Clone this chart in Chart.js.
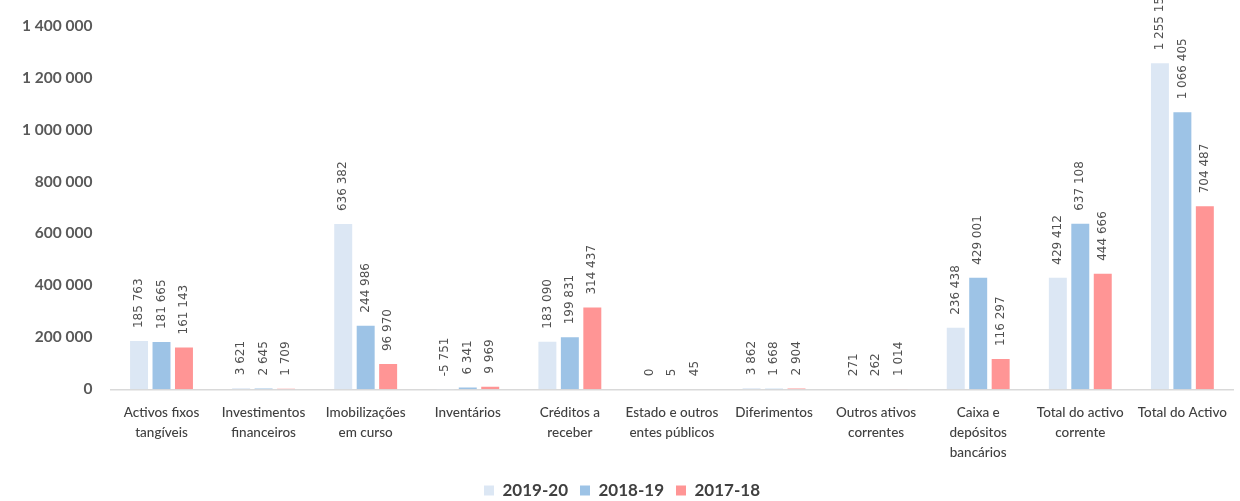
<!DOCTYPE html>
<html>
<head>
<meta charset="utf-8">
<script src="https://cdn.jsdelivr.net/npm/chart.js@4"></script>
<style>
  html, body { margin: 0; padding: 0; background: #fff; }
  #wrap { width: 1240px; height: 501px; }
</style>
</head>
<body>
<div id="wrap"><canvas id="chart_activo"></canvas></div>
<script>
// categories (multi-line labels as in the source)
var categories = [
    ["Activos fixos", "tangíveis"],
    ["Investimentos", "financeiros"],
    ["Imobilizações", "em curso"],
    ["Inventários"],
    ["Créditos a", "receber"],
    ["Estado e outros", "entes públicos"],
    ["Diferimentos"],
    ["Outros ativos", "correntes"],
    ["Caixa e", "depósitos", "bancários"],
    ["Total do activo", "corrente"],
    ["Total do Activo"]
];
var seriesNames = ["2019-20", "2018-19", "2017-18"];
var values1920 = [185763, 3621, 636382, -5751, 183090, 0, 3862, 271, 236438, 429412, 1255150];
var values1819 = [181665, 2645, 244986, 6341, 199831, 5, 1668, 262, 429001, 637108, 1066405];
var values1718 = [161143, 1709, 96970, 9969, 314437, 45, 2904, 1014, 116297, 444666, 704487];
var yTicks = [0, 200000, 400000, 600000, 800000, 1000000, 1200000, 1400000];

var colors = ["#dce7f4", "#9dc3e6", "#ff9595"];

function fmt(n) {
    var s = Math.abs(n).toString().replace(/\B(?=(\d{3})+(?!\d))/g, " ");
    return (n < 0 ? "-" : "") + s;
}

// rotated value labels above each bar
var barLabels = {
    id: "barLabels",
    afterDatasetsDraw: function (chart) {
        var ctx = chart.ctx;
        var yScale = chart.scales.y;
        ctx.save();
        ctx.font = "12px 'DejaVu Sans', Verdana, sans-serif";
        ctx.fillStyle = "#505050";
        ctx.textAlign = "left";
        ctx.textBaseline = "middle";
        chart.data.datasets.forEach(function (ds, di) {
            chart.getDatasetMeta(di).data.forEach(function (bar, i) {
                var v = ds.data[i];
                var top = yScale.getPixelForValue(Math.max(v, 0));
                ctx.save();
                ctx.translate(bar.x, top - 13);
                ctx.rotate(-Math.PI / 2);
                ctx.fillText(fmt(v), 0, 0);
                ctx.restore();
            });
        });
        ctx.restore();
    }
};

// keep legend spacing between items but make its box shorter
var legendHeight = {
    id: "legendHeight",
    beforeInit: function (chart) {
        var orig = chart.legend.fit;
        chart.legend.fit = function () {
            orig.call(this);
            this.height = 31;
        };
    }
};

var ctx = document.getElementById("chart_activo").getContext("2d");
var chart = new Chart(ctx, {
    type: "bar",
    data: {
        labels: categories,
        datasets: seriesNames.map(function (name, k) {
            return {
                label: name,
                data: [values1920, values1819, values1718][k],
                backgroundColor: colors[k],
                borderWidth: 0
            };
        })
    },
    options: {
        responsive: true,
        maintainAspectRatio: false,
        animation: false,
        layout: { padding: { top: 0, right: 0, left: 4, bottom: 0 } },
        datasets: {
            bar: { categoryPercentage: 0.66, barPercentage: 0.8 }
        },
        scales: {
            x: {
                afterFit: function (axis) { axis.height -= 6; },
                grid: { display: false, drawTicks: false },
                border: { display: true, color: "#d9d9d9", width: 1.5 },
                ticks: {
                    autoSkip: false,
                    maxRotation: 0,
                    minRotation: 0,
                    padding: 13,
                    color: "#404040",
                    font: { family: "Lato, 'Open Sans', sans-serif", size: 13.5, weight: "500", lineHeight: 1.5 }
                }
            },
            y: {
                min: 0,
                max: 1400000,
                afterBuildTicks: function (axis) {
                    axis.ticks = yTicks.map(function (v) { return { value: v }; });
                },
                grid: { display: false, drawTicks: false },
                border: { display: false },
                ticks: {
                    padding: 18,
                    color: "#595959",
                    font: { family: "Lato, 'Open Sans', sans-serif", size: 15.5, weight: "bold", lineHeight: 1 },
                    callback: function (v) { return fmt(v); }
                }
            }
        },
        plugins: {
            legend: {
                position: "bottom",
                labels: {
                    boxWidth: 10,
                    boxHeight: 10,
                    padding: 12,
                    color: "#404040",
                    font: { family: "Lato, 'Open Sans', sans-serif", size: 17, weight: "bold" }
                }
            },
            tooltip: { enabled: false }
        }
    },
    plugins: [legendHeight, barLabels]
});
</script>
</body>
</html>
